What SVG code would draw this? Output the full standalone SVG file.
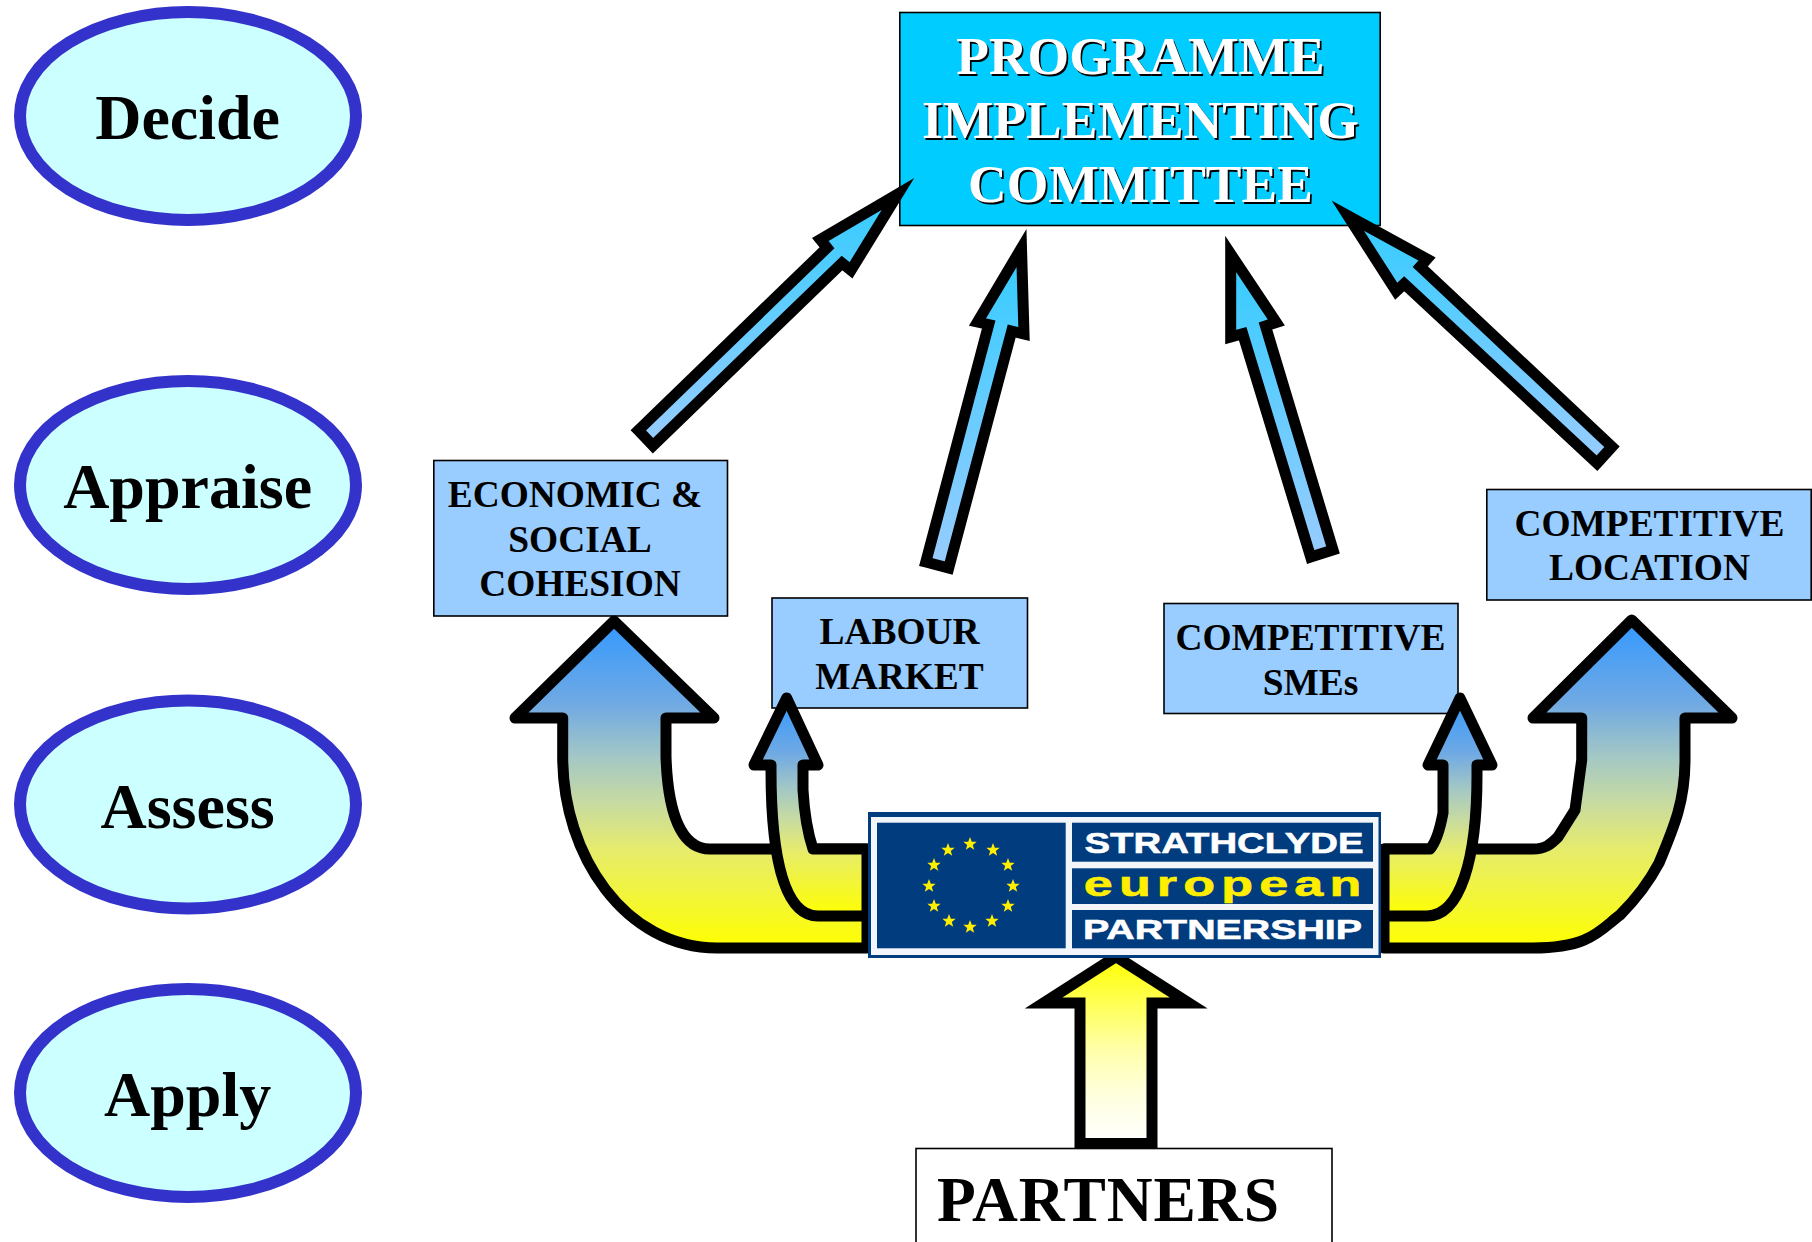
<svg xmlns="http://www.w3.org/2000/svg" xmlns:xlink="http://www.w3.org/1999/xlink" width="1812" height="1242" viewBox="0 0 1812 1242">
<style>
text{font-family:"Liberation Serif","Times New Roman",serif;font-weight:bold;text-anchor:middle;fill:#000}
.oval{fill:#CCFFFF;stroke:#3333CC;stroke-width:12}
.oval-t{font-size:64px}
.box{fill:#99CCFF;stroke:#000;stroke-width:1.6}
.box-t{font-size:37.4px}
.pic-t{font-size:53.5px}
.logo-t{font-family:"Liberation Sans",Arial,sans-serif;fill:#fff;stroke:#fff;stroke-width:0.6}
.curve{stroke:#000;stroke-width:11;stroke-linejoin:round;fill:url(#gUp)}
.thin{stroke:#000;stroke-width:11;stroke-linejoin:miter;stroke-miterlimit:12;fill:url(#gSky)}
.navy{fill:#003C7E}
</style>
<defs>
<linearGradient id="gUp" x1="0" y1="0" x2="0" y2="1">
<stop offset="0" stop-color="#3399FF"/><stop offset="0.25" stop-color="#6FA9E4"/><stop offset="0.42" stop-color="#A4C8C4"/><stop offset="0.56" stop-color="#C8DBA0"/><stop offset="0.7" stop-color="#E6EC6C"/><stop offset="1" stop-color="#FFFF00"/>
</linearGradient>
<linearGradient id="gSky" x1="0" y1="0" x2="0" y2="1">
<stop offset="0" stop-color="#33CCFF"/><stop offset="1" stop-color="#99CCFF"/>
</linearGradient>
<linearGradient id="gPale" x1="0" y1="0" x2="0" y2="1">
<stop offset="0" stop-color="#FFFF00"/><stop offset="0.5" stop-color="#FFFFAA"/><stop offset="0.75" stop-color="#FFFFE0"/><stop offset="1" stop-color="#FFFFFF"/>
</linearGradient>
<polygon id="star" points="0,-7 1.8,-2.2 6.7,-2.2 2.8,0.9 4.2,5.7 0,2.9 -4.2,5.7 -2.8,0.9 -6.7,-2.2 -1.8,-2.2" fill="#FFEE00"/>
</defs>
<rect width="1812" height="1242" fill="#fff"/>

<g id="node-decide"><ellipse class="oval" cx="188" cy="116" rx="168" ry="104"/><text class="oval-t" x="187.6" y="139">Decide</text></g>
<g id="node-appraise"><ellipse class="oval" cx="188" cy="485" rx="168" ry="104"/><text class="oval-t" x="187.6" y="508">Appraise</text></g>
<g id="node-assess"><ellipse class="oval" cx="188" cy="804.5" rx="168" ry="104"/><text class="oval-t" x="187.6" y="827.5">Assess</text></g>
<g id="node-apply"><ellipse class="oval" cx="188" cy="1093" rx="168" ry="104"/><text class="oval-t" x="187.6" y="1116">Apply</text></g>

<g id="node-committee">
<rect x="899.8" y="12.5" width="480.4" height="213" fill="#00CCFF" stroke="#000" stroke-width="1.6"/>
<text x="1142.2" y="76" class="pic-t">PROGRAMME</text><text x="1142.2" y="140" class="pic-t">IMPLEMENTING</text><text x="1142.2" y="204" class="pic-t">COMMITTEE</text>
<text x="1140.5" y="74" class="pic-t" style="fill:#fff">PROGRAMME</text><text x="1140.5" y="138" class="pic-t" style="fill:#fff">IMPLEMENTING</text><text x="1140.5" y="202" class="pic-t" style="fill:#fff">COMMITTEE</text>
</g>
<g id="node-cohesion"><rect class="box" x="433.8" y="460.5" width="293.7" height="155.5"/><text class="box-t" x="575" y="506.5">ECONOMIC &amp;</text><text class="box-t" x="580" y="551.5">SOCIAL</text><text class="box-t" x="580" y="595.5">COHESION</text></g>
<g id="node-labour"><rect class="box" x="772" y="598" width="255.5" height="110"/><text class="box-t" x="899.5" y="644">LABOUR</text><text class="box-t" x="899.5" y="689">MARKET</text></g>
<g id="node-smes"><rect class="box" x="1164" y="603.5" width="294" height="110"/><text class="box-t" x="1310.5" y="649.5">COMPETITIVE</text><text class="box-t" x="1310.5" y="694.5">SMEs</text></g>
<g id="node-location"><rect class="box" x="1486.8" y="489.5" width="324.4" height="110.5"/><text class="box-t" x="1649.5" y="536">COMPETITIVE</text><text class="box-t" x="1649.5" y="579.5">LOCATION</text></g>
<g id="node-partners"><rect x="916" y="1148.5" width="416" height="120" fill="#fff" stroke="#000" stroke-width="1.6"/><text x="937" y="1220.7" textLength="342" lengthAdjust="spacing" style="font-size:63.5px;text-anchor:start">PARTNERS</text></g>

<g id="connectors">
<path class="curve" d="M867 948H717C625 948 562.7 855 562.7 757V718H515L614 621 714 718H666V757C668 815 682 849 710 849H867Z"/>
<path class="curve" d="M867 916H818C785 916 771 860 771 770V765H754L786.7 698 818 765H803V790Q805 825 813 849H867Z"/>
<path class="curve" d="M1384 948H1533C1590 948 1600 930 1620 915C1640 895 1650 880 1659 863C1675 825 1685 800 1685 760V718H1732L1631.7 620 1533 718H1581.7V760L1575 810 1558 837C1550 845 1545 849 1533 849H1384Z"/>
<path class="curve" d="M1384 916H1427C1460 916 1477 860 1477 775V765H1492L1460 698 1428 765H1443V813Q1438 840 1430 849H1384Z"/>
<polygon class="thin" points="638.3,430.3 653,445.8 842,263 851,270.3 898,194 820.3,239.5 827,247.8"/>
<polygon class="thin" points="925.8,562 948.7,568 1011.7,331 1024,334 1021.5,248 977.5,322 988.7,324.5"/>
<polygon class="thin" points="1310.7,557 1333,550 1265.5,326 1276.3,322.5 1230.7,254 1230.7,337 1242.7,333.8"/>
<polygon class="thin" points="1597,463.2 1612,446.7 1420.3,266.7 1427,259 1347.8,215.7 1396.2,291.3 1404.2,283.7"/>
<polygon points="1116,956.5 1188.8,1003 1152,1003 1152,1143.5 1080,1143.5 1080,1003 1043.5,1003" fill="url(#gPale)" stroke="#000" stroke-width="11" stroke-miterlimit="12"/>
</g>

<g id="node-logo">
<rect class="navy" x="868" y="812" width="513" height="146"/>
<rect x="871" y="817" width="507.5" height="138" fill="#F2F5FA"/>
<rect class="navy" x="877" y="822.7" width="188.7" height="125.6"/>
<rect class="navy" x="1072" y="822.7" width="301" height="39"/>
<rect class="navy" x="1072" y="868.3" width="301" height="35.7"/>
<rect class="navy" x="1072" y="910" width="301" height="38.3"/>
<use xlink:href="#star" href="#star" x="970" y="844"/>
<use xlink:href="#star" href="#star" x="993" y="850"/>
<use xlink:href="#star" href="#star" x="1008" y="865"/>
<use xlink:href="#star" href="#star" x="1013" y="886"/>
<use xlink:href="#star" href="#star" x="1008" y="906"/>
<use xlink:href="#star" href="#star" x="992" y="921"/>
<use xlink:href="#star" href="#star" x="970" y="927"/>
<use xlink:href="#star" href="#star" x="949" y="921"/>
<use xlink:href="#star" href="#star" x="934" y="906"/>
<use xlink:href="#star" href="#star" x="929" y="886"/>
<use xlink:href="#star" href="#star" x="934" y="865"/>
<use xlink:href="#star" href="#star" x="948" y="850"/>
<text class="logo-t" x="1224" y="853" font-size="30" textLength="279" lengthAdjust="spacingAndGlyphs">STRATHCLYDE</text>
<text class="logo-t" transform="translate(1222.5,895.7) scale(1.5,1)" x="0" y="0" font-size="34.7" textLength="185" lengthAdjust="spacing" style="fill:#FFEE00;stroke:#FFEE00">european</text>
<text class="logo-t" x="1222.5" y="939" font-size="28" textLength="279" lengthAdjust="spacingAndGlyphs">PARTNERSHIP</text>
</g>
</svg>
